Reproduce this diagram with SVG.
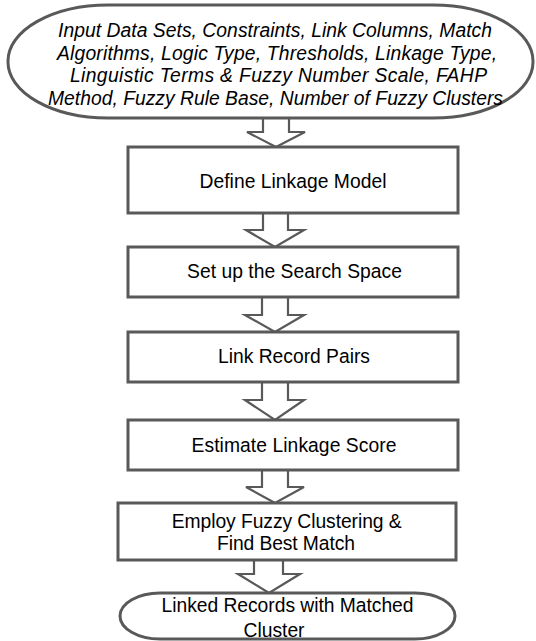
<svg xmlns="http://www.w3.org/2000/svg" width="536" height="641" viewBox="0 0 536 641">
<style>
.shape{fill:#fff;stroke:#595959;stroke-width:3}
.arrow{fill:#fff;stroke:#595959;stroke-width:2.2;stroke-linejoin:miter}
text{font-family:"Liberation Sans",Arial,sans-serif;font-size:19.3px;fill:#000;text-anchor:middle}
.it{font-style:italic}
</style>
<rect width="536" height="641" fill="#fff"/>
<g id="connectors">
<path class="arrow" d="M263,118 V132 H247 L276,147 L305,132 H289 V118"/>
<path class="arrow" d="M263,213 V230 H246 L275,247 L304,230 H288 V213"/>
<path class="arrow" d="M262,297 V315 H245 L275,332 L304,315 H288 V297"/>
<path class="arrow" d="M262,382 V400 H245 L275,420 L304,400 H288 V382"/>
<path class="arrow" d="M262,470 V487 H246 L275,503 L304,487 H288 V470"/>
<path class="arrow" d="M254,560 V574 H238 L269,593 L300,574 H283 V560"/>
</g>
<g id="input">
<rect class="shape" x="8" y="5" width="525" height="113" rx="100" ry="56"/>
<text class="it" x="275" y="37" textLength="434">Input Data Sets, Constraints, Link Columns, Match</text>
<text class="it" x="277" y="59.5" textLength="440">Algorithms, Logic Type, Thresholds, Linkage Type,</text>
<text class="it" x="278.5" y="82" textLength="417">Linguistic Terms &amp; Fuzzy Number Scale, FAHP</text>
<text class="it" x="275.5" y="104.5" textLength="455">Method, Fuzzy Rule Base, Number of Fuzzy Clusters</text>
</g>
<g id="define">
<rect class="shape" x="128" y="147" width="330" height="66"/>
<text x="293" y="188" textLength="187">Define Linkage Model</text>
</g>
<g id="search">
<rect class="shape" x="128" y="247" width="330" height="50"/>
<text x="294.5" y="278" textLength="215">Set up the Search Space</text>
</g>
<g id="link">
<rect class="shape" x="128" y="332" width="330" height="50"/>
<text x="294" y="363" textLength="152">Link Record Pairs</text>
</g>
<g id="estimate">
<rect class="shape" x="128" y="420" width="330" height="50"/>
<text x="294" y="452" textLength="205">Estimate Linkage Score</text>
</g>
<g id="cluster">
<rect class="shape" x="118" y="503" width="338" height="57"/>
<text x="286.7" y="528" textLength="230">Employ Fuzzy Clustering &amp;</text>
<text x="286" y="550" textLength="138">Find Best Match</text>
</g>
<g id="output">
<rect class="shape" x="120" y="593" width="335" height="46" rx="40" ry="23"/>
<text x="287.5" y="612" textLength="252">Linked Records with Matched</text>
<text x="274" y="637">Cluster</text>
</g>
</svg>
